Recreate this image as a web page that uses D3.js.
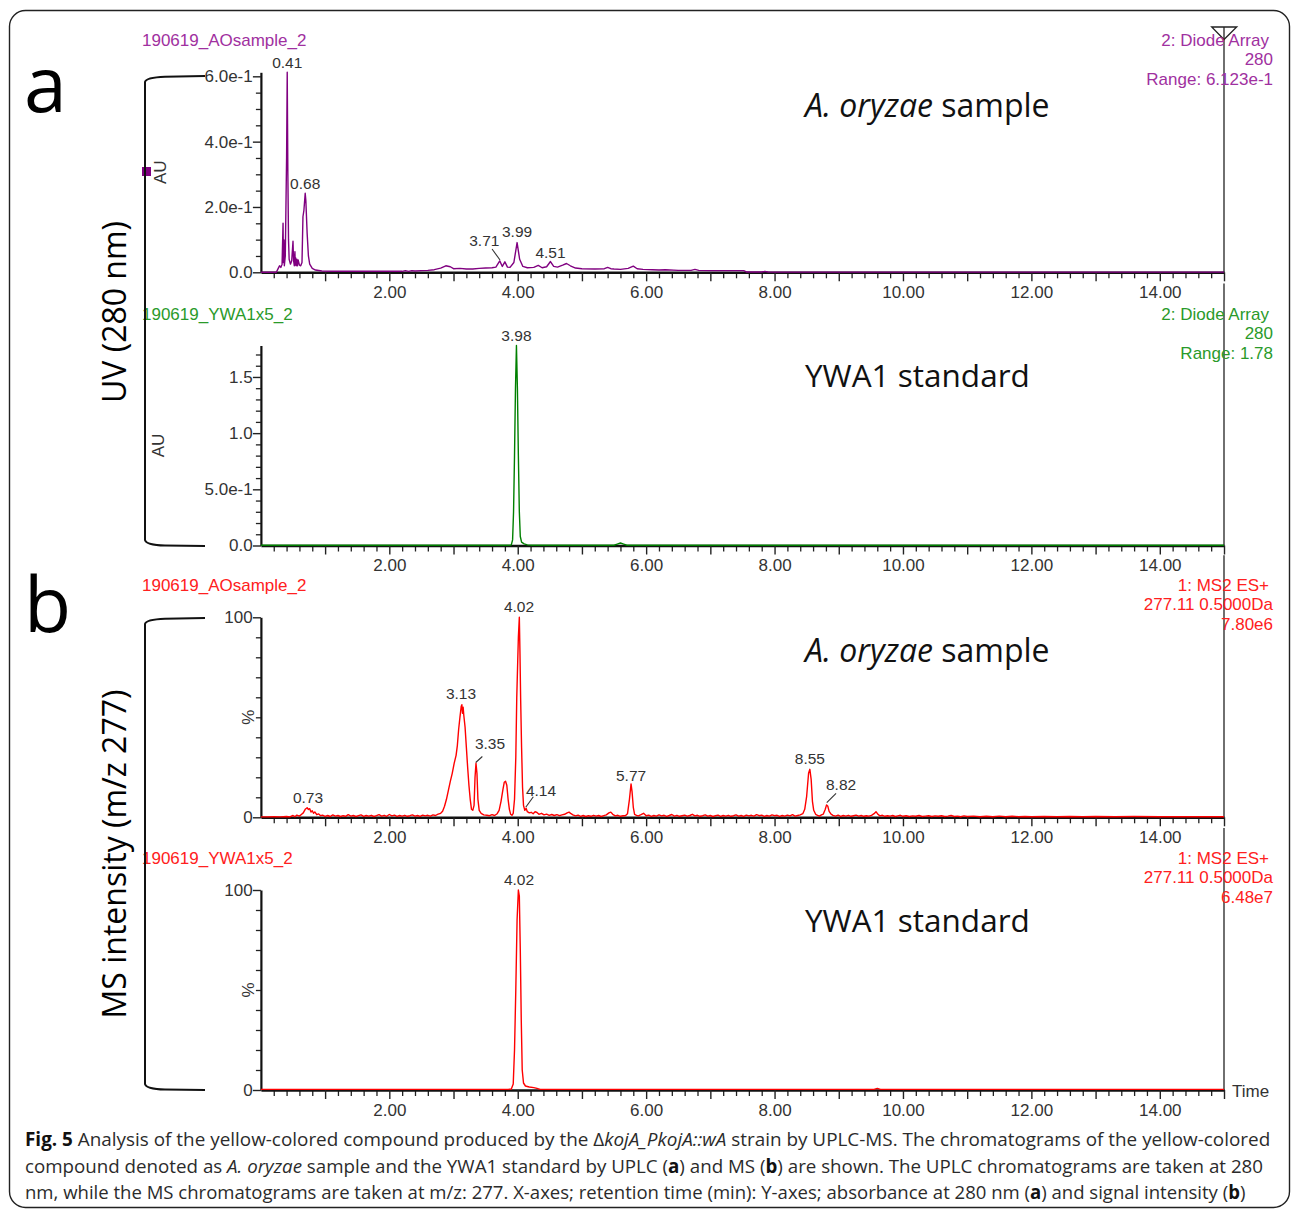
<!DOCTYPE html>
<html><head><meta charset="utf-8">
<script src="https://cdn.jsdelivr.net/npm/d3@7"></script>
<style>
html,body{margin:0;padding:0;background:#fff;}
svg{display:block;}
</style></head><body>
<svg id="chart" width="1292" height="1211"></svg>
<script>
// ---------------- DATA ----------------
const timeDomain = [0, 15];
const xMajorTicks = [1,2,3,4,5,6,7,8,9,10,11,12,13,14,15];
const xLabelTicks = [2,4,6,8,10,12,14];
const xTickLabels = ["2.00","4.00","6.00","8.00","10.00","12.00","14.00"];

const panelNames = ["190619_AOsample_2","190619_YWA1x5_2","190619_AOsample_2","190619_YWA1x5_2"];
const panelInfo = [
  ["2: Diode Array","280","Range: 6.123e-1"],
  ["2: Diode Array","280","Range: 1.78"],
  ["1: MS2 ES+","277.11 0.5000Da","7.80e6"],
  ["1: MS2 ES+","277.11 0.5000Da","6.48e7"]
];
const panelRanges = [0.6123, 1.78, 100, 100];
const yTickValues = [[0,0.2,0.4,0.6],[0,0.5,1.0,1.5],[0,100],[0,100]];
const yTickLabels = [["0.0","2.0e-1","4.0e-1","6.0e-1"],["0.0","5.0e-1","1.0","1.5"],["0","100"],["0","100"]];
const yMinorTicks = [
  [0.05,0.1,0.15,0.25,0.3,0.35,0.45,0.5,0.55],
  [0.1,0.2,0.3,0.4,0.6,0.7,0.8,0.9,1.1,1.2,1.3,1.4,1.6,1.7],
  [10,20,30,40,50,60,70,80,90],
  [10,20,30,40,50,60,70,80,90]
];
const yUnits = ["AU","AU","%","%"];
const sampleTitles = [["A. oryzae"," sample"],["","YWA1 standard"],["A. oryzae"," sample"],["","YWA1 standard"]];

// UV 280 nm, A. oryzae sample  [time (min), AU]
const uvSample = [
 [0,0.0],[0.24,0.0],[0.27,0.012],[0.29,0.020],[0.31,0.015],[0.33,0.025],[0.345,0.150],[0.35,0.030],
 [0.36,0.099],[0.365,0.020],[0.37,0.030],[0.38,0.050],[0.40,0.350],[0.41,0.6123],[0.415,0.455],
 [0.42,0.300],[0.43,0.100],[0.44,0.040],[0.46,0.025],[0.48,0.035],[0.50,0.095],[0.505,0.060],
 [0.51,0.035],[0.52,0.020],[0.53,0.063],[0.535,0.022],[0.54,0.045],[0.55,0.020],[0.56,0.040],
 [0.57,0.020],[0.58,0.038],[0.60,0.022],[0.62,0.020],[0.64,0.030],[0.655,0.170],[0.67,0.190],
 [0.69,0.242],[0.70,0.220],[0.72,0.120],[0.74,0.050],[0.76,0.025],[0.80,0.012],[0.85,0.007],
 [0.95,0.004],[1.10,0.003],[1.5,0.003],[2.2,0.003],[2.25,0.005],[2.30,0.003],[2.35,0.005],
 [2.40,0.004],[2.5,0.005],[2.6,0.006],[2.7,0.008],[2.8,0.013],[2.88,0.020],[2.95,0.017],
 [3.0,0.011],[3.1,0.012],[3.2,0.010],[3.3,0.010],[3.4,0.012],[3.5,0.013],[3.6,0.014],[3.66,0.016],
 [3.72,0.035],[3.76,0.018],[3.80,0.032],[3.84,0.016],[3.88,0.015],[3.94,0.030],[3.99,0.091],
 [4.03,0.040],[4.08,0.018],[4.15,0.014],[4.25,0.015],[4.32,0.021],[4.38,0.014],[4.45,0.017],
 [4.51,0.033],[4.56,0.018],[4.62,0.016],[4.70,0.022],[4.76,0.027],[4.82,0.020],[4.9,0.013],
 [5.0,0.011],[5.2,0.010],[5.35,0.011],[5.40,0.015],[5.45,0.011],[5.5,0.010],[5.6,0.009],
 [5.72,0.012],[5.80,0.019],[5.86,0.011],[5.95,0.009],[6.1,0.008],[6.2,0.007],[6.3,0.008],
 [6.5,0.006],[6.7,0.006],[6.76,0.009],[6.82,0.006],[7.0,0.005],[7.3,0.005],[7.52,0.005],
 [7.56,0.001],[7.8,0.001],[7.85,0.003],[7.9,0.001],[8.5,0.0005],[15,0.0005]
];

// UV 280 nm, YWA1 standard [time, AU]
const uvStandard = [
 [0,0.002],[3.88,0.002],[3.90,0.005],[3.92,0.05],[3.935,0.30],[3.95,0.80],[3.965,1.40],[3.98,1.78],
 [3.995,1.40],[4.01,0.80],[4.025,0.30],[4.04,0.08],[4.06,0.03],[4.10,0.015],[4.15,0.006],[4.22,0.002],
 [5.50,0.002],[5.55,0.012],[5.60,0.022],[5.65,0.012],[5.70,0.002],[15,0.002]
];

// MS m/z 277, A. oryzae sample [time, %]
const msSample = [
 [0,0.2],[0.1,0.2],[0.2,0.3],[0.3,0.2],[0.4,0.4],[0.45,0.2],[0.5,0.9],[0.53,0.3],[0.56,1.1],[0.6,0.6],
 [0.63,1.4],[0.66,2.2],[0.69,4.0],[0.72,4.8],[0.74,3.9],[0.76,4.3],[0.78,2.6],[0.8,3.3],[0.82,2.0],
 [0.84,2.7],[0.87,1.3],[0.9,1.7],[0.93,0.8],[0.96,1.1],[1.0,0.5],[1.04,0.9],[1.08,0.4],[1.12,1.2],
 [1.16,0.6],[1.2,0.9],[1.24,0.4],[1.28,0.8],[1.32,0.5],[1.36,1.3],[1.4,0.6],[1.44,0.9],[1.48,0.4],
 [1.52,0.8],[1.56,1.2],[1.6,0.5],[1.64,0.9],[1.68,0.6],[1.72,1.0],[1.76,0.4],[1.8,0.8],[1.84,1.3],
 [1.88,0.6],[1.92,1.0],[1.96,0.5],[2.0,1.4],[2.04,0.7],[2.08,1.1],[2.12,0.5],[2.16,0.9],[2.2,0.6],
 [2.24,1.0],[2.28,0.5],[2.32,0.8],[2.36,1.2],[2.4,0.6],[2.44,0.9],[2.48,0.5],[2.52,1.1],[2.56,0.7],
 [2.6,1.0],[2.64,0.6],[2.68,1.2],[2.72,0.9],[2.76,1.6],
 [2.8,2.0],[2.83,3.0],[2.86,5.5],[2.89,9.0],[2.92,13.5],[2.95,18.0],[2.98,22.0],[3.01,27.0],
 [3.04,31.0],[3.06,36.0],[3.08,44.0],[3.10,50.0],[3.12,55.5],[3.13,56.3],[3.14,52.0],[3.15,55.0],
 [3.16,51.0],[3.18,45.0],[3.20,35.0],[3.22,25.0],[3.24,16.0],[3.26,9.0],[3.28,4.0],[3.30,3.5],
 [3.32,6.0],[3.335,20.0],[3.35,27.0],[3.365,22.0],[3.38,9.0],[3.40,3.5],[3.43,2.0],[3.47,1.2],
 [3.52,1.0],[3.56,0.8],[3.60,1.3],[3.64,0.9],[3.68,1.8],[3.71,3.5],[3.74,8.0],[3.77,14.0],
 [3.79,17.5],[3.81,18.0],[3.83,16.0],[3.85,9.0],[3.87,4.0],[3.89,1.5],[3.91,1.0],[3.93,2.0],
 [3.95,9.0],[3.97,30.0],[3.985,60.0],[4.00,78.0],[4.01,90.0],[4.025,100],[4.035,82.0],[4.045,60.0],
 [4.06,35.0],[4.075,15.0],[4.09,6.0],[4.11,3.5],[4.13,4.5],[4.15,2.8],[4.18,2.2],[4.21,2.5],
 [4.24,1.8],[4.27,2.8],[4.30,2.4],[4.33,1.5],[4.37,2.0],[4.41,1.2],[4.45,1.6],[4.49,1.0],[4.53,1.4],
 [4.57,0.9],[4.61,1.3],[4.65,0.8],[4.69,1.2],[4.73,1.5],[4.77,2.2],[4.80,2.6],[4.83,1.8],[4.86,1.2],
 [4.90,0.7],[4.94,1.1],[4.98,0.5],[5.02,0.9],[5.06,0.4],[5.10,0.8],[5.14,0.5],[5.18,1.0],[5.22,0.6],
 [5.26,0.9],[5.30,0.4],[5.34,0.8],[5.38,1.2],[5.42,2.2],[5.45,2.6],[5.48,1.5],[5.52,0.7],[5.56,1.0],
 [5.60,0.5],[5.64,0.8],[5.68,0.9],[5.71,1.8],[5.74,9.0],[5.765,16.7],[5.78,13.0],[5.80,5.0],
 [5.82,1.5],[5.85,1.0],[5.88,0.7],[5.92,1.3],[5.96,2.0],[6.0,0.8],[6.04,1.1],[6.08,0.5],[6.12,0.9],
 [6.16,0.6],[6.2,1.2],[6.24,0.7],[6.28,1.0],[6.32,0.5],[6.36,0.9],[6.4,1.4],[6.44,0.6],[6.48,1.0],
 [6.52,0.5],[6.56,0.8],[6.6,1.1],[6.64,0.6],[6.68,0.9],[6.72,1.5],[6.76,0.7],[6.8,1.0],[6.84,0.5],
 [6.88,0.8],[6.92,1.2],[6.96,0.6],[7.0,0.9],[7.04,0.4],[7.08,0.8],[7.12,1.1],[7.16,0.5],[7.2,0.9],
 [7.24,0.6],[7.28,1.0],[7.32,0.5],[7.36,0.8],[7.4,1.2],[7.44,0.6],[7.48,0.9],[7.52,0.5],[7.56,1.1],
 [7.6,0.7],[7.64,1.0],[7.68,0.6],[7.72,1.3],[7.76,0.8],[7.8,1.1],[7.84,0.5],[7.88,0.9],[7.92,0.6],
 [7.96,1.2],[8.0,0.8],[8.04,1.0],[8.08,0.5],[8.12,0.9],[8.16,0.6],[8.2,1.1],[8.24,0.7],[8.28,1.3],
 [8.32,0.6],[8.36,0.9],[8.40,1.2],[8.44,1.8],[8.47,4.0],[8.50,10.5],[8.53,22.0],[8.55,24.0],
 [8.57,19.0],[8.59,8.0],[8.61,3.5],[8.64,1.5],[8.67,1.0],[8.70,0.6],[8.73,1.2],[8.76,1.6],[8.79,4.0],
 [8.81,6.2],[8.83,5.5],[8.85,3.0],[8.88,1.6],[8.91,1.0],[8.95,0.6],[8.99,1.1],[9.03,0.5],[9.07,0.9],
 [9.11,0.6],[9.15,1.0],[9.19,0.5],[9.23,0.8],[9.27,1.1],[9.31,0.6],[9.35,0.9],[9.39,0.5],[9.43,0.8],
 [9.47,0.6],[9.51,1.0],[9.55,1.8],[9.58,2.8],[9.61,1.5],[9.64,0.7],[9.68,1.0],[9.72,0.5],[9.76,0.8],
 [9.8,0.6],[9.84,0.9],[9.88,0.4],[9.92,0.7],[9.96,1.0],[10.0,0.5],[10.05,0.8],[10.1,0.4],[10.15,0.7],
 [10.2,0.5],[10.25,0.9],[10.3,0.4],[10.35,0.6],[10.4,0.8],[10.45,0.4],[10.5,0.7],[10.55,0.5],
 [10.6,0.8],[10.65,0.4],[10.7,0.6],[10.75,0.9],[10.8,0.4],[10.85,0.6],[10.9,0.3],[10.95,0.7],
 [11.0,0.4],[11.1,0.6],[11.2,0.3],[11.3,0.5],[11.4,0.3],[11.5,0.6],[11.6,0.3],[11.7,0.5],[11.8,0.3],
 [11.9,0.4],[12.0,0.3],[12.2,0.4],[12.4,0.3],[12.6,0.4],[12.8,0.3],[13.0,0.4],[13.3,0.3],[13.6,0.4],
 [14.0,0.3],[14.5,0.3],[15,0.3]
];

// MS m/z 277, YWA1 standard [time, %]
const msStandard = [
 [0,0.3],[3.85,0.3],[3.90,0.5],[3.93,3],[3.95,20],[3.97,50],[3.99,85],[4.01,100],[4.025,97],
 [4.04,70],[4.055,35],[4.07,10],[4.09,3.5],[4.12,2.0],[4.18,1.5],[4.25,1.2],[4.30,0.8],[4.35,0.3],
 [9.55,0.3],[9.60,0.8],[9.65,0.3],[15,0.3]
];

// peak labels: text, label position (time, value); optional leader [t1,v1,t2,v2]
const uvSampleLabels = [
 {text:"0.41", t:0.41, v:0.625},
 {text:"0.68", t:0.69, v:0.254},
 {text:"3.71", t:3.48, v:0.079, leader:[3.60,0.0713,3.724,0.0377]},
 {text:"3.99", t:3.99, v:0.107},
 {text:"4.51", t:4.51, v:0.045}
];
const uvStandardLabels = [{text:"3.98", t:3.98, v:1.824}];
const msSampleLabels = [
 {text:"0.73", t:0.733, v:7.4},
 {text:"3.13", t:3.117, v:59.0},
 {text:"3.35", t:3.568, v:34.0, leader:[3.449,30.4,3.346,27.4]},
 {text:"4.02", t:4.02, v:102.6},
 {text:"4.14", t:4.363, v:10.9, leader:[4.243,10.3,4.125,5.0]},
 {text:"5.77", t:5.765, v:18.4},
 {text:"8.55", t:8.55, v:26.5},
 {text:"8.82", t:9.036, v:13.9, leader:[8.958,12.0,8.813,7.3]}
];
const msStandardLabels = [{text:"4.02", t:4.02, v:102.5}];

const seriesList = [uvSample, uvStandard, msSample, msStandard];
const labelList = [uvSampleLabels, uvStandardLabels, msSampleLabels, msStandardLabels];

// ---------------- STYLE / LAYOUT ----------------
const lineColors = ["#800080", "#008000", "#ff0000", "#ff0000"];
const headColors = ["#a030a0", "#2a9a2a", "#ff2020", "#ff2020"];
const panelZero = [272.3, 545.5, 817.3, 1090];
const panelH = 200;
const ARIAL = "'Liberation Sans', Arial, sans-serif";
const OPEN = "'Open Sans', 'Noto Sans', sans-serif";
const TXT = "#333";

const svg = d3.select("#chart");
svg.append("rect").attr("width",1292).attr("height",1211).attr("fill","#fff");

// outer rounded frame
svg.append("rect").attr("x",9.5).attr("y",10.5).attr("width",1280).attr("height",1197)
  .attr("rx",16).attr("fill","none").attr("stroke","#222").attr("stroke-width",1.4);

const x = d3.scaleLinear().domain(timeDomain).range([260.9, 1224]);
const xMinor = d3.range(1, 75).map(k => k/5).filter(v => Math.abs(v - Math.round(v)) > 1e-6);
const xLabelMap = new Map(xLabelTicks.map((v,i)=>[v, xTickLabels[i]]));

panelZero.forEach((y0, i) => {
  const y = d3.scaleLinear().domain([0, panelRanges[i]]).range([y0, y0 - panelH]);
  const g = svg.append("g");

  // right boundary line
  g.append("line").attr("x1",1224).attr("x2",1224)
    .attr("y1", i === 0 ? 27 : y0 - 262).attr("y2", y0)
    .attr("stroke","#222").attr("stroke-width",1.3);
  if (i === 0) {
    g.append("path").attr("d", `M1211.7,27 L1236.7,27 L1224,39.5 Z`)
      .attr("fill","none").attr("stroke","#222").attr("stroke-width",1.3);
  }

  // x axis minor ticks
  g.append("g").attr("transform", `translate(0,${y0})`)
    .call(d3.axisBottom(x).tickValues(xMinor).tickSize(6).tickSizeOuter(0).tickFormat(""))
    .call(s => s.select(".domain").remove())
    .call(s => s.selectAll("line").attr("stroke","#222").attr("stroke-width",1.3));
  // x axis major ticks + labels
  g.append("g").attr("transform", `translate(0,${y0})`)
    .call(d3.axisBottom(x).tickValues(xMajorTicks).tickSize(9).tickSizeOuter(0)
      .tickFormat(d => xLabelMap.get(d) || ""))
    .call(s => s.select(".domain").attr("stroke","#111").attr("stroke-width",2.4))
    .call(s => s.selectAll("line").attr("stroke","#222").attr("stroke-width",1.4))
    .call(s => s.selectAll("text").attr("y",13.5).attr("fill",TXT)
      .attr("font-family",ARIAL).attr("font-size",17));

  // y axis minor
  g.append("g").attr("transform", `translate(${x(0)},0)`)
    .call(d3.axisLeft(y).tickValues(yMinorTicks[i]).tickSize(5).tickSizeOuter(0).tickFormat(""))
    .call(s => s.select(".domain").remove())
    .call(s => s.selectAll("line").attr("stroke","#222").attr("stroke-width",1.3));
  // y axis major
  g.append("g").attr("transform", `translate(${x(0)},0)`)
    .call(d3.axisLeft(y).tickValues(yTickValues[i]).tickSize(8).tickSizeOuter(0)
      .tickFormat((d, j) => yTickLabels[i][j]))
    .call(s => s.select(".domain").attr("stroke","#111").attr("stroke-width",2.2))
    .call(s => s.selectAll("line").attr("stroke","#222").attr("stroke-width",1.4))
    .call(s => s.selectAll("text").attr("x",-8.2).attr("fill",TXT)
      .attr("font-family",ARIAL).attr("font-size",17));

  // y unit
  const ux = i < 2 ? (i === 0 ? 160 : 158) : 248;
  g.append("text").attr("transform", `translate(${ux},${y0 - 100}) rotate(-90)`)
    .attr("text-anchor","middle").attr("dominant-baseline","central")
    .attr("font-family",ARIAL).attr("font-size",17).attr("fill",TXT).text(yUnits[i]);

  // data trace
  const line = d3.line().x(d => x(d[0])).y(d => y(d[1]));
  g.append("path").datum(seriesList[i]).attr("d", line)
    .attr("fill","none").attr("stroke",lineColors[i]).attr("stroke-width",1.4)
    .attr("stroke-linejoin","round");

  // headers
  g.append("text").attr("x",142).attr("y", y0 - 226).attr("fill",headColors[i])
    .attr("font-family",ARIAL).attr("font-size",17).text(panelNames[i]);
  panelInfo[i].forEach((s, k) => {
    g.append("text").attr("x", k === 0 ? 1269 : 1273).attr("y", y0 - 226 + [0,19,39][k])
      .attr("text-anchor","end").attr("fill",headColors[i])
      .attr("font-family",ARIAL).attr("font-size",17).text(s);
  });

  // peak labels
  labelList[i].forEach(L => {
    g.append("text").attr("x", x(L.t)).attr("y", y(L.v)).attr("text-anchor","middle")
      .attr("font-family",ARIAL).attr("font-size",15.5).attr("fill",TXT).text(L.text);
    if (L.leader) {
      g.append("line").attr("x1",x(L.leader[0])).attr("y1",y(L.leader[1]))
        .attr("x2",x(L.leader[2])).attr("y2",y(L.leader[3]))
        .attr("stroke","#333").attr("stroke-width",1.1);
    }
  });

  // sample annotation
  const ann = g.append("text").attr("x",805).attr("y", y0 - (i % 2 === 0 ? 155 : 158.5))
    .attr("font-family",OPEN).attr("font-size",i % 2 === 0 ? 32 : 31.5).attr("fill","#111");
  if (sampleTitles[i][0]) ann.append("tspan").attr("font-style","italic").text(sampleTitles[i][0]);
  ann.append("tspan").text(sampleTitles[i][1]);
});

// purple marker on the bracket
svg.append("rect").attr("x",142).attr("y",167).attr("width",9).attr("height",9).attr("fill","#800080");

// brackets
const bracket = (top, bot) =>
  `M205,${top} L165,${top+0.8} Q146,${top+1.5} 145,${top+6} L145,${bot-6} Q146,${bot-1} 165,${bot-0.4} L205,${bot}`;
svg.append("path").attr("d", bracket(76, 546)).attr("fill","none").attr("stroke","#111").attr("stroke-width",2);
svg.append("path").attr("d", bracket(618, 1090)).attr("fill","none").attr("stroke","#111").attr("stroke-width",2);

// panel letters
svg.append("text").attr("x",24).attr("y",112).attr("font-family",OPEN).attr("font-size",77).attr("fill","#000").text("a");
svg.append("text").attr("x",24).attr("y",632).attr("font-family",OPEN).attr("font-size",77).attr("fill","#000").text("b");

// big axis titles
svg.append("text").attr("transform","translate(113,312) rotate(-90)").attr("text-anchor","middle")
  .attr("dominant-baseline","central").attr("font-family",OPEN).attr("font-size",32).attr("fill","#000")
  .text("UV (280 nm)");
svg.append("text").attr("transform","translate(113,854) rotate(-90)").attr("text-anchor","middle")
  .attr("dominant-baseline","central").attr("font-family",OPEN).attr("font-size",32).attr("fill","#000")
  .text("MS intensity (m/z 277)");

// Time label
svg.append("text").attr("x",1232).attr("y",1097).attr("font-family",ARIAL).attr("font-size",17)
  .attr("fill",TXT).text("Time");

// caption (each line horizontally scaled to the reference width)
const captionLines = [
  {y:1146, w:1246, parts:[["Fig. 5","b"],[" Analysis of the yellow-colored compound produced by the Δ",""],["kojA_PkojA::wA","i"],[" strain by UPLC-MS. The chromatograms of the yellow-colored",""]]},
  {y:1172.5, w:1239, parts:[["compound denoted as ",""],["A. oryzae","i"],[" sample and the YWA1 standard by UPLC (",""],["a","b"],[") and MS (",""],["b","b"],[") are shown. The UPLC chromatograms are taken at 280",""]]},
  {y:1199, w:1221, parts:[["nm, while the MS chromatograms are taken at m/z: 277. X-axes; retention time (min): Y-axes; absorbance at 280 nm (",""],["a","b"],[") and signal intensity (",""],["b","b"],[")",""]]}
];
captionLines.forEach(L => {
  const g = svg.append("g");
  const t = g.append("text").attr("x",0).attr("y",0).attr("font-family",OPEN)
    .attr("font-size",19).attr("fill","#2b2b2b");
  L.parts.forEach(p => {
    const ts = t.append("tspan").text(p[0]);
    if (p[1] === "b") ts.attr("font-weight","bold").attr("fill","#111");
    if (p[1] === "i") ts.attr("font-style","italic");
  });
  const natural = t.node().getComputedTextLength() || L.w;
  g.attr("transform", `translate(25,${L.y}) scale(${L.w / natural},1)`);
});
</script>
</body></html>
